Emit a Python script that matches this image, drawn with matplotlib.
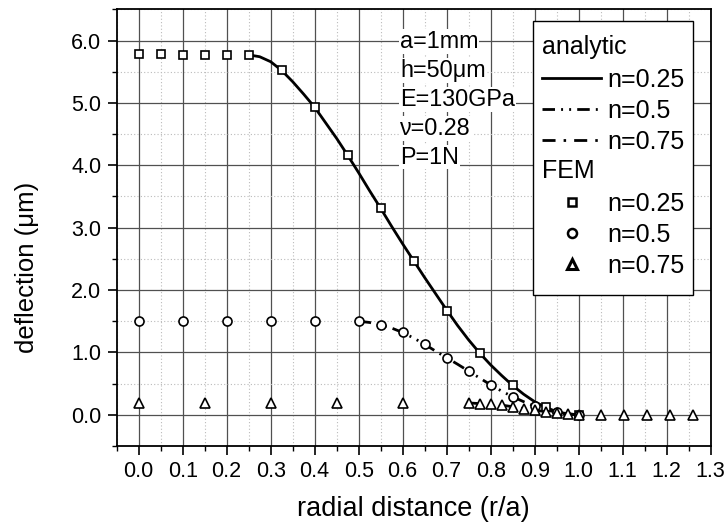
import matplotlib
matplotlib.use("Agg")
import matplotlib.pyplot as plt
from matplotlib.lines import Line2D
from matplotlib.legend_handler import HandlerBase
from matplotlib.ticker import MultipleLocator, FormatStrFormatter
from matplotlib.offsetbox import DrawingArea
import matplotlib.text as mtext

plt.rcParams['font.family'] = ['Liberation Sans', 'DejaVu Sans']

# ---------------- data ----------------
# analytic n=0.25
an25_x = [0.25, 0.275, 0.3, 0.325, 0.35, 0.375, 0.4, 0.425, 0.45, 0.475, 0.5, 0.525,
          0.55, 0.575, 0.6, 0.625, 0.65, 0.675, 0.7, 0.725, 0.75, 0.775, 0.8, 0.825,
          0.85, 0.875, 0.9, 0.925, 0.95, 0.975, 1.0]
an25_y = [5.77, 5.74, 5.66, 5.52, 5.34, 5.14, 4.93, 4.68, 4.43, 4.16, 3.88, 3.59,
          3.31, 3.02, 2.74, 2.47, 2.20, 1.94, 1.68, 1.43, 1.20, 0.99, 0.80, 0.63,
          0.47, 0.33, 0.21, 0.12, 0.05, 0.015, 0.0]
# analytic n=0.5
an50_x = [0.5, 0.525, 0.55, 0.575, 0.6, 0.625, 0.65, 0.675, 0.7, 0.725, 0.75,
          0.775, 0.8, 0.825, 0.85, 0.875, 0.9, 0.925, 0.95, 0.975, 1.0]
an50_y = [1.50, 1.48, 1.44, 1.39, 1.32, 1.23, 1.13, 1.02, 0.915, 0.81, 0.70,
          0.59, 0.48, 0.38, 0.29, 0.21, 0.14, 0.08, 0.04, 0.01, 0.0]
# analytic n=0.75
an75_x = [0.75, 0.775, 0.8, 0.825, 0.85, 0.875, 0.9, 0.925, 0.95, 0.975, 1.0]
an75_y = [0.19, 0.18, 0.17, 0.155, 0.13, 0.10, 0.075, 0.05, 0.03, 0.015, 0.0]

# FEM n=0.25
fem25_x = [0.0, 0.05, 0.1, 0.15, 0.2, 0.25, 0.325, 0.4, 0.475, 0.55, 0.625,
           0.7, 0.775, 0.85, 0.925, 1.0]
fem25_y = [5.78, 5.78, 5.77, 5.77, 5.77, 5.77, 5.52, 4.94, 4.16, 3.31, 2.47,
           1.67, 0.99, 0.47, 0.13, 0.0]
# FEM n=0.5
fem50_x = [0.0, 0.1, 0.2, 0.3, 0.4, 0.5, 0.55, 0.6, 0.65, 0.7, 0.75, 0.8,
           0.85, 0.9, 0.95, 1.0]
fem50_y = [1.50, 1.50, 1.50, 1.50, 1.50, 1.50, 1.44, 1.32, 1.13, 0.915, 0.695, 0.48,
           0.29, 0.14, 0.04, 0.0]
# FEM n=0.75
fem75_x = [0.0, 0.15, 0.3, 0.45, 0.6, 0.75, 0.775, 0.8, 0.825, 0.85, 0.875, 0.9,
           0.925, 0.95, 0.975, 1.0, 1.05, 1.1025, 1.155, 1.2075, 1.26]
fem75_y = [0.19, 0.19, 0.19, 0.19, 0.19, 0.19, 0.18, 0.17, 0.155, 0.13, 0.10, 0.075,
           0.05, 0.03, 0.015, 0.0, 0.0, 0.0, 0.0, 0.0, 0.0]

params_text = ["a=1mm", "h=50\u03bcm", "E=130GPa", "\u03bd=0.28", "P=1N"]
legend_labels = ["n=0.25", "n=0.5", "n=0.75"]

# ---------------- figure ----------------
fig = plt.figure(figsize=(7.27, 5.29), dpi=100)
ax = fig.add_axes([0.1605, 0.1569, 0.817, 0.8255])

ax.set_xlim(-0.05, 1.3)
ax.set_ylim(-0.5, 6.5)
ax.xaxis.set_major_locator(MultipleLocator(0.1))
ax.xaxis.set_minor_locator(MultipleLocator(0.05))
ax.yaxis.set_major_locator(MultipleLocator(1.0))
ax.yaxis.set_minor_locator(MultipleLocator(0.5))
ax.xaxis.set_major_formatter(FormatStrFormatter('%.1f'))
ax.yaxis.set_major_formatter(FormatStrFormatter('%.1f'))

ax.grid(which='major', color='#505050', linewidth=0.9, linestyle='-')
ax.grid(which='minor', color='#bbbbbb', linewidth=0.8, linestyle=(0, (1, 2)))
ax.set_axisbelow(True)

ax.tick_params(which='major', direction='out', length=6.5, width=1.2, labelsize=15.5)
ax.tick_params(axis='x', which='major', pad=4.5)
ax.tick_params(axis='y', which='major', pad=4.5)
ax.tick_params(which='minor', direction='out', length=3.5, width=1.0)
for s in ax.spines.values():
    s.set_linewidth(1.3)

dashdotdot = (0, (4.5, 2.2, 0.7, 2.2, 0.7, 2.2))
dashdot = (0, (4.7, 2.9, 0.9, 2.9))
lw = 2.0

ax.plot(an25_x, an25_y, color='black', linewidth=lw, linestyle='-', zorder=3)
ax.plot(an50_x, an50_y, color='black', linewidth=lw, linestyle=dashdotdot, zorder=3)
ax.plot(an75_x, an75_y, color='black', linewidth=lw, linestyle=dashdot, zorder=3)

mkw = dict(linestyle='none', markerfacecolor='white', markeredgecolor='black',
           markeredgewidth=1.2, zorder=4)
ax.plot(fem25_x, fem25_y, marker='s', markersize=6, **mkw)
ax.plot(fem50_x, fem50_y, marker='o', markersize=6.5, **mkw)
ax.plot(fem75_x, fem75_y, marker='^', markersize=7, **mkw)

ax.set_xlabel("radial distance (r/a)", fontsize=19.5, labelpad=10)
ax.set_ylabel("deflection (\u03bcm)", fontsize=18.5)
ax.yaxis.set_label_coords(-0.13, 0.41)

# parameters text block
ty0 = 5.98
for i, t in enumerate(params_text):
    ax.text(0.594, ty0 - i * 0.462, t, fontsize=16.8, ha='left', va='center',
            bbox=dict(facecolor='white', edgecolor='none', pad=0.6), zorder=5)


# ---------------- legend ----------------
class HeaderHandle:
    def __init__(self, text):
        self.text = text


class HeaderHandler(HandlerBase):
    def legend_artist(self, legend, orig_handle, fontsize, handlebox):
        t = mtext.Text(-handlebox.xdescent, handlebox.height / 2 - handlebox.ydescent,
                       orig_handle.text, fontsize=fontsize, ha='left', va='center',
                       family=['Liberation Sans', 'DejaVu Sans'])
        handlebox.add_artist(t)
        return t


handles = [
    HeaderHandle("analytic"),
    Line2D([], [], color='black', linewidth=lw, linestyle='-'),
    Line2D([], [], color='black', linewidth=lw, linestyle=dashdotdot),
    Line2D([], [], color='black', linewidth=lw, linestyle=dashdot),
    HeaderHandle("FEM"),
    Line2D([], [], marker='s', markersize=6, linestyle='none', markerfacecolor='white',
           markeredgecolor='black', markeredgewidth=1.8),
    Line2D([], [], marker='o', markersize=6.5, linestyle='none', markerfacecolor='white',
           markeredgecolor='black', markeredgewidth=1.8),
    Line2D([], [], marker='^', markersize=7, linestyle='none', markerfacecolor='white',
           markeredgecolor='black', markeredgewidth=2.2),
]
labels = [""] + legend_labels + [""] + legend_labels

leg = ax.legend(handles, labels, handler_map={HeaderHandle: HeaderHandler()},
                loc='upper right', bbox_to_anchor=(0.971, 0.974), fontsize=18,
                frameon=True, fancybox=False, framealpha=1, edgecolor='black',
                handlelength=2.37, handletextpad=0.25, labelspacing=0.28,
                borderpad=0.35, borderaxespad=0.0)
leg.get_frame().set_linewidth(1.0)
leg.set_zorder(6)

# extra vertical padding inside the legend frame (taller than wide)
try:
    top_pad = DrawingArea(1, 0.5)
    bot_pad = DrawingArea(1, 0.5)
    top_pad.set_figure(fig)
    bot_pad.set_figure(fig)
    kids = leg._legend_box._children
    leg._legend_box._children = [top_pad] + list(kids) + [bot_pad]
except Exception:
    pass

fig.savefig("out.png", dpi=100)
